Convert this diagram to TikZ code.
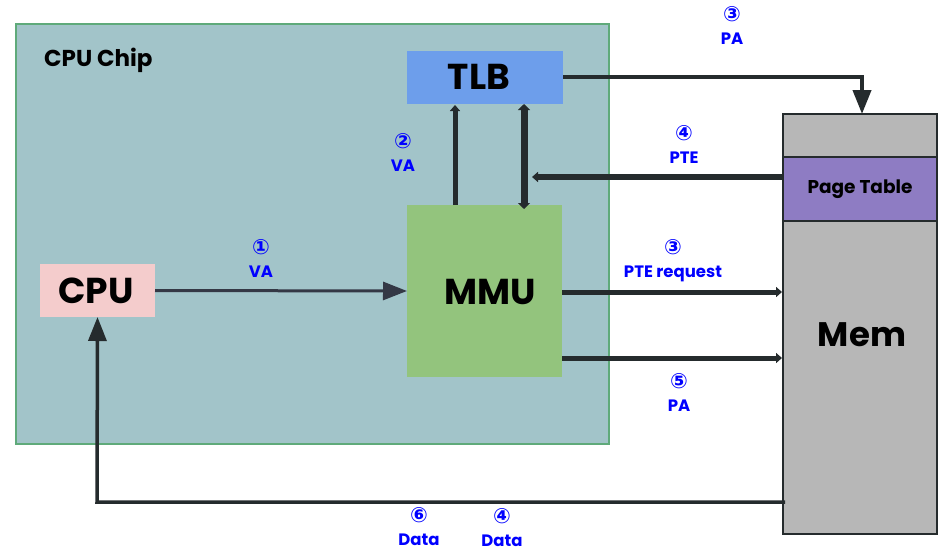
\documentclass[tikz,border=0pt]{standalone}
\usepackage{fontspec}
\setmainfont{Poppins}
\newfontfamily\symfont{DejaVu Sans}
\usetikzlibrary{arrows.meta}
\definecolor{chipfill}{HTML}{A2C4C9}
\definecolor{chipline}{HTML}{5FAA7A}
\definecolor{tlbfill}{HTML}{6D9EEB}
\definecolor{mmufill}{HTML}{93C47D}
\definecolor{cpufill}{HTML}{F4CCCC}
\definecolor{memfill}{HTML}{B7B7B7}
\definecolor{ptfill}{HTML}{8E7CC3}
\definecolor{arr}{HTML}{252B2D}
\definecolor{arrb}{HTML}{343845}
\definecolor{lbl}{HTML}{0000FF}
\tikzset{
  box/.style={inner sep=0pt, outer sep=0pt, draw=none},
  bigtxt/.style={font=\fontsize{36}{36}\selectfont\bfseries},
  lab/.style={text=lbl, font=\fontsize{16.5}{23}\selectfont\bfseries, align=center, inner sep=0pt},
  conn/.style={draw=arr, line width=#1},
  tipbig/.style={-{Triangle[length=24pt,width=18pt]}},
  tipsmall/.style={-{Triangle[length=6pt,width=10pt]}}
}
\newcommand{\circnum}[1]{{\symfont\fontsize{21}{23}\selectfont #1}}
\begin{document}
\begin{tikzpicture}[x=1pt,y=-1pt]
\useasboundingbox (0,0) rectangle (942,552);
\fill[white] (0,0) rectangle (942,552);
% CPU chip
\draw[fill=chipfill, draw=chipline, line width=1.2pt] (16,24) rectangle (609,444);
\node[anchor=west, font=\fontsize{23}{23}\selectfont\bfseries, inner sep=0pt] (chiplbl) at (44,60) {CPU Chip};
% boxes
\node[box, fill=tlbfill, minimum width=156pt, minimum height=53pt] (tlb) at (485,77.5) {};
\node[bigtxt] (tlbtxt) at (479,77) {TLB};
\node[box, fill=mmufill, minimum width=155pt, minimum height=172pt] (mmu) at (484.5,291) {};
\node[bigtxt] (mmutxt) at (490,292) {MMU};
\node[box, fill=cpufill, minimum width=115pt, minimum height=53pt] (cpu) at (97.5,290.5) {};
\node[bigtxt] (cputxt) at (96,291) {CPU};
% Mem
\draw[fill=memfill, draw=arr, line width=1.5pt] (783,114) rectangle (937,534);
\draw[fill=ptfill, draw=arr, line width=1.5pt] (783,157) rectangle (937,221);
\node[box] (mem) at (860,324) {};
\node[font=\fontsize{34}{34}\selectfont\bfseries] (memtxt) at (862,335) {Mem};
\node[font=\fontsize{18.5}{18.5}\selectfont\bfseries] (pt) at (860,189) {Page Table};
% coordinates
\coordinate (memtop) at (862,114);
\coordinate (tlbr) at (563,77);
\coordinate (pteS) at (783,177);
\coordinate (pteE) at (532,177);
\coordinate (dataS) at (785,502);
% arrows
\draw[draw=arrb, line width=3pt, tipbig] (cpu.east) -- (mmu.west);
\draw[conn=5pt, tipsmall] (455,205) -- (455,105);
\draw[conn=7pt, {Triangle[length=6pt,width=12pt]}-{Triangle[length=6pt,width=12pt]}] (524,209) -- (524,104);
\draw[conn=6pt, tipsmall] (pteS) -- (pteE);
\draw[conn=4pt, tipbig] (tlbr) -- (862,77) -- (memtop);
\draw[conn=5pt, tipsmall] (562,292) -- (782,292);
\draw[conn=5pt, tipsmall] (562,358) -- (782,358);
\draw[conn=3.5pt, tipbig] (dataS) -- (97,502) -- (cpu.south);
% labels
\node[lab] (l1) at (261,258.5) {\circnum{①}\\VA};
\node[lab] (l2) at (403,152.5) {\circnum{②}\\VA};
\node[lab] (l3) at (732,25) {\circnum{③}\\PA};
\node[lab] (l4) at (684,144) {\circnum{④}\\PTE};
\node[lab] (l5) at (673,261) {\circnum{③}\\PTE request};
\node[lab] (l6) at (679,392.5) {\circnum{⑤}\\PA};
\node[lab] (l7) at (419,527) {\circnum{⑥}\\Data};
\node[lab] (l8) at (502,528) {\circnum{④}\\Data};
\end{tikzpicture}
\end{document}
